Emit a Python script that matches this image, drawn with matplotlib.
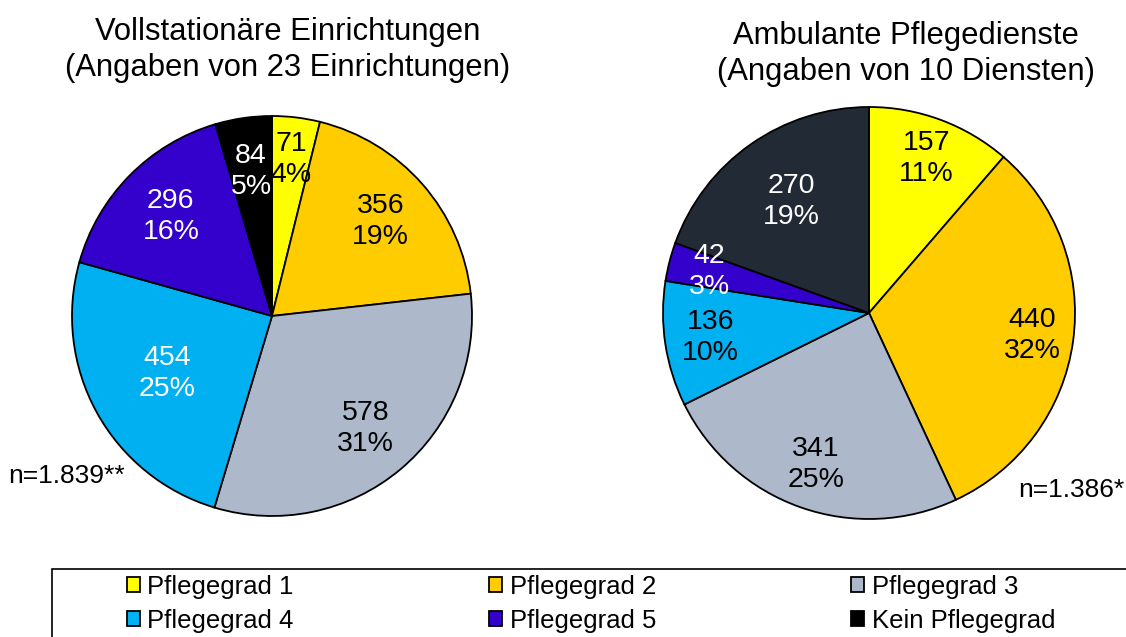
import numpy as np
import matplotlib
matplotlib.use("Agg")
import matplotlib.pyplot as plt
from matplotlib.patches import Rectangle

plt.rcParams['font.family'] = ['Liberation Sans', 'DejaVu Sans']

# categories and values
categories = ['Pflegegrad 1', 'Pflegegrad 2', 'Pflegegrad 3',
              'Pflegegrad 4', 'Pflegegrad 5', 'Kein Pflegegrad']
stationaer = [71, 356, 578, 454, 296, 84]
ambulant = [157, 440, 341, 136, 42, 270]
pct_stationaer = ['4%', '19%', '31%', '25%', '16%', '5%']
pct_ambulant = ['11%', '32%', '25%', '10%', '3%', '19%']

colors_left = ['#FFFF00', '#FFCC00', '#ADB9CA', '#00B0F0', '#3300CC', '#000000']
colors_right = ['#FFFF00', '#FFCC00', '#ADB9CA', '#00B0F0', '#3300CC', '#222A35']
txt_left = ['black', 'black', 'black', 'white', 'white', 'white']
txt_right = ['black', 'black', 'black', 'black', 'white', 'white']
rad_left = [0.79, 0.72, 0.73, 0.6, 0.71, 0.73]
rad_right = [0.8, 0.8, 0.78, 0.78, 0.8, 0.66]

W, H = 1126, 637
fig = plt.figure(figsize=(W / 100, H / 100), dpi=100)


def pie_axes(cx, cy, r):
    return fig.add_axes([(cx - r) / W, 1 - (cy + r) / H, 2 * r / W, 2 * r / H])


def draw_pie(ax, values, pcts, colors, tcolors, rads):
    wedges, _ = ax.pie(values, colors=colors, startangle=90, counterclock=False,
                       wedgeprops=dict(edgecolor='black', linewidth=1.3))
    for w, v, p, c, r in zip(wedges, values, pcts, tcolors, rads):
        ang = np.deg2rad((w.theta1 + w.theta2) / 2)
        ax.text(r * np.cos(ang), r * np.sin(ang), f"{v}\n{p}", ha='center',
                va='center', fontsize=20.5, color=c, linespacing=1.25)
    ax.set_xlim(-1, 1)
    ax.set_ylim(-1, 1)
    ax.set_aspect('equal')
    ax.axis('off')
    return wedges


ax1 = pie_axes(272, 316, 200)
wedges = draw_pie(ax1, stationaer, pct_stationaer, colors_left, txt_left, rad_left)
ax2 = pie_axes(869, 313, 206)
draw_pie(ax2, ambulant, pct_ambulant, colors_right, txt_right, rad_right)

fig.text(288 / W, 1 - 50 / H, "Vollstationäre Einrichtungen\n(Angaben von 23 Einrichtungen)",
         ha='center', va='center', fontsize=22.3, linespacing=1.3)
fig.text(906 / W, 1 - 54 / H, "Ambulante Pflegedienste\n(Angaben von 10 Diensten)",
         ha='center', va='center', fontsize=22.3, linespacing=1.3)
fig.text(8 / W, 1 - 476 / H, "n=1.839**", ha='left', va='center', fontsize=19)
fig.text(1124 / W, 1 - 490 / H, "n=1.386*", ha='right', va='center', fontsize=19)

# legend frame (runs off the right and bottom edge)
fig.patches.append(Rectangle((52 / W, -0.05), 1.1, (637 - 569) / H + 0.05,
                             transform=fig.transFigure, facecolor='none',
                             edgecolor='black', linewidth=1.2))

# legend fills column by column, so reorder to read row by row
order = [0, 3, 1, 4, 2, 5]
leg = fig.legend([wedges[i] for i in order], [categories[i] for i in order],
                 ncol=3, loc='upper left',
                 bbox_to_anchor=(114 / W, 1 - 562 / H), frameon=False,
                 prop={'size': 18.5},
                 handlelength=0.5, handleheight=0.5, handletextpad=0.3,
                 columnspacing=7.6, labelspacing=0.38, borderpad=0)
for h in leg.legend_handles:
    h.set_linewidth(1.3)

fig.savefig('out.png', dpi=100)
